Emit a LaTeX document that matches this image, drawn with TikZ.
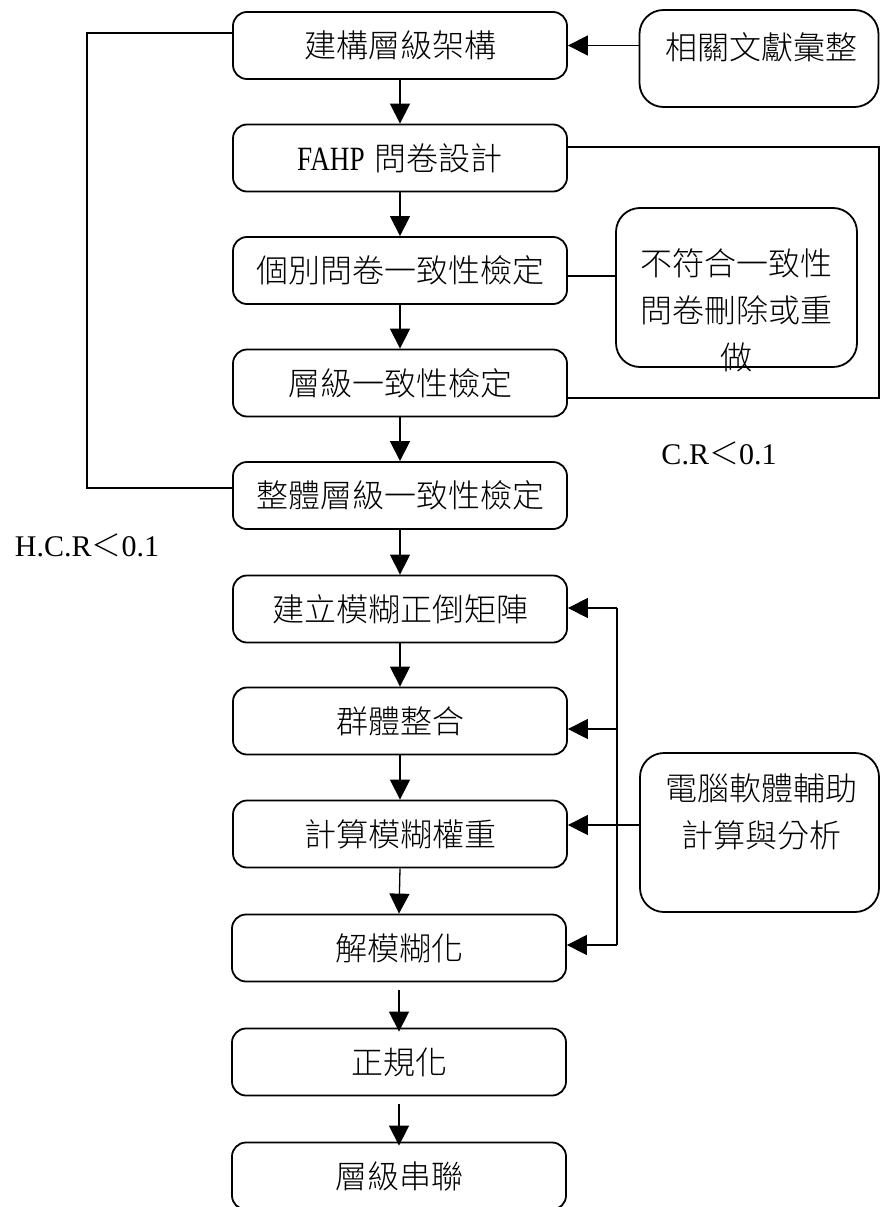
\documentclass[tikz,border=0pt]{standalone}
\usepackage{fontspec}
\setmainfont{Liberation Serif}
\IfFontExistsTF{Noto Sans CJK TC Light}{\newfontfamily\cjk{Noto Sans CJK TC Light}}{\newfontfamily\cjk{Noto Sans CJK TC}}
\newfontfamily\lat{Liberation Serif}
\newfontfamily\latn[FakeStretch=0.8]{Liberation Serif}
\usetikzlibrary{arrows.meta}
\begin{document}
\begin{tikzpicture}[x=1pt,y=-1pt,
  box/.style={draw, line width=1.8pt, rounded corners=14pt, minimum width=334pt,
    minimum height=67pt, inner sep=0pt, font=\cjk\fontsize{32}{38}\selectfont},
  sidebox/.style={draw, line width=1.8pt, rounded corners=24pt, inner sep=0pt},
  txt/.style={font=\cjk\fontsize{32}{47}\selectfont, align=center, inner sep=0pt},
  lbl/.style={font=\lat\fontsize{30}{36}\selectfont, inner sep=0pt},
  conn/.style={line width=1.3pt},
  arr/.style={conn, -{Triangle[length=20pt,width=20pt]}}]
\useasboundingbox (0,0) rectangle (881,1207);

% main column
\node[box] (b1) at (400,45.5) {建構層級架構};
\node[box] (b2) at (400,158) {{\latn\fontsize{34}{38}\selectfont FAHP}\hspace{10pt}問卷設計};
\node[box] (b3) at (400,270.5) {個別問卷一致性檢定};
\node[box] (b4) at (400,383) {層級一致性檢定};
\node[box] (b5) at (400,495.5) {整體層級一致性檢定};
\node[box] (b6) at (400,609) {建立模糊正倒矩陣};
\node[box] (b7) at (400,721) {群體整合};
\node[box] (b8) at (400,834) {計算模糊權重};
\node[box] (b9) at (399,948) {解模糊化};
\node[box] (b10) at (399,1062) {正規化};
\node[box] (b11) at (399,1176) {層級串聯};

% side boxes
\node[sidebox, minimum width=239pt, minimum height=97pt] (lit) at (759,58.5) {};
\node[txt] (litT) at (761,47) {相關文獻彙整};
\node[sidebox, minimum width=241pt, minimum height=159pt] (bad) at (736.5,287.5) {};
\node[txt] (badT) at (736,310) {不符合一致性\\問卷刪除或重\\做};
\node[sidebox, minimum width=239pt, minimum height=159pt] (comp) at (759.5,832.5) {};
\node[txt] (compT) at (761,811.5) {電腦軟體輔助\\計算與分析};

% labels
\node[lbl] (cr) at (719,453) {C.R{\cjk\fontsize{30}{36}\selectfont ＜}0.1};
\node[lbl] (hcr) at (87,545) {H.C.R{\cjk\fontsize{30}{36}\selectfont ＜}0.1};

% main arrows
\draw[arr] (b1.south) -- (b2.north);
\draw[arr] (b2.south) -- (b3.north);
\draw[arr] (b3.south) -- (b4.north);
\draw[arr] (b4.south) -- (b5.north);
\draw[arr] (b5.south) -- (b6.north);
\draw[arr] (b6.south) -- (b7.north);
\draw[arr] (b7.south) -- (b8.north);
\draw[arr] (b8.south) -- (b9.north);
\draw[arr, shorten <=8pt, shorten >=-4pt] (b9.south) -- (b10.north);
\draw[arr, shorten <=8pt, shorten >=-4pt] (b10.south) -- (b11.north);

% literature arrow
\draw[arr] (lit.west |- b1.east) -- (b1.east);

% left loop
\draw[conn] ([yshift=12.5pt]b1.west) -- ++(-145,0) |- ([yshift=7.5pt]b5.west);

% right loop
\draw[conn] ([yshift=11pt]b2.east) -- ++(311,0) |- ([yshift=-15pt]b4.east);

% link to inconsistent box
\coordinate (c3) at ([yshift=-5.5pt]b3.east);
\draw[conn] (c3) -- (c3 -| bad.west);

% computer feedback
\coordinate (f6) at (617,608);
\coordinate (f7) at (617,729);
\coordinate (f9) at (617,945);
\coordinate (f8) at ([yshift=7.5pt]comp.west);
\draw[conn] (f6) -- (f9);
\draw[arr] (f6) -- (f6 -| b6.east);
\draw[arr] (f7) -- (f7 -| b7.east);
\draw[arr] (f9) -- (f9 -| b9.east);
\draw[arr] (f8) -- (f8 -| b8.east);
\end{tikzpicture}
\end{document}
